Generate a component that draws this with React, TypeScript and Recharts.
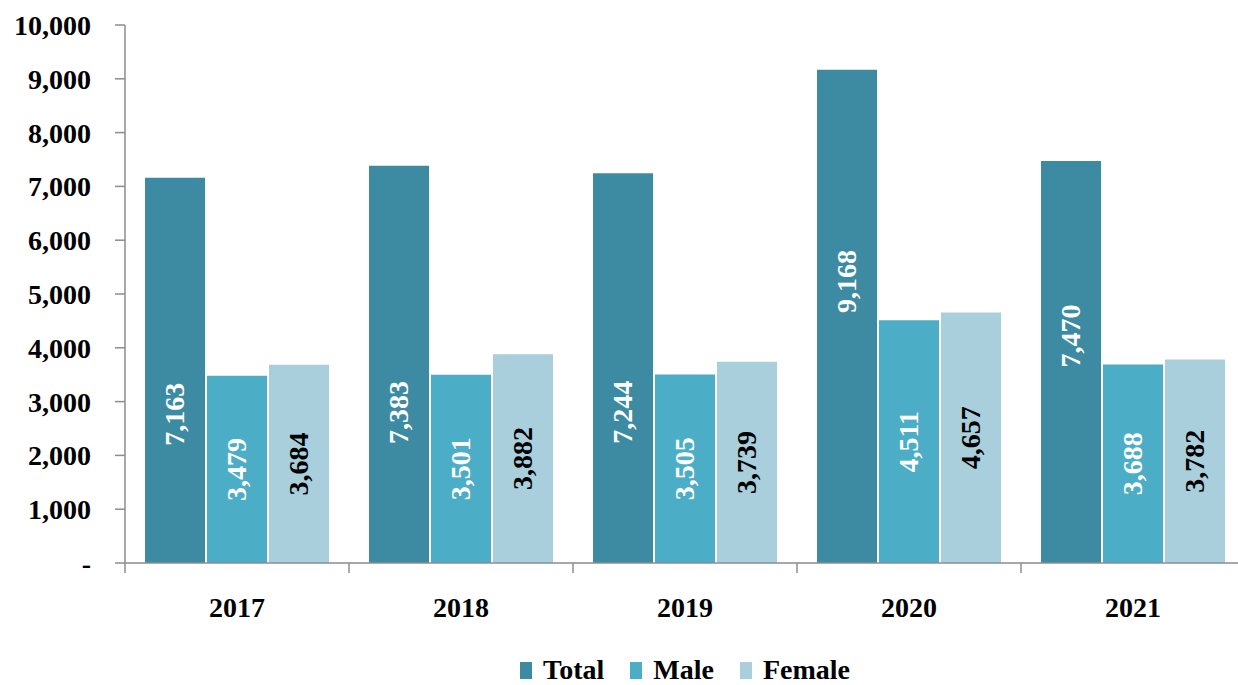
import React from 'react';
import { BarChart, Bar, XAxis, YAxis, LabelList } from 'recharts';

const YEARS = ['2017', '2018', '2019', '2020', '2021'];
const TOTAL = [7163, 7383, 7244, 9168, 7470];
const MALE = [3479, 3501, 3505, 4511, 3688];
const FEMALE = [3684, 3882, 3739, 4657, 3782];
const Y_TICKS = [0, 1000, 2000, 3000, 4000, 5000, 6000, 7000, 8000, 9000, 10000];

// hand-placed label nudges on the Total bars (px, + = down)
const TOTAL_LABEL_SHIFT = [44, 48, 44, -35, -26];

const FONT = '"Liberation Serif", "Times New Roman", serif';
const AXIS = '#8c8c8c';
const SERIES = [
  { key: 'total', name: 'Total', color: '#3d8ba2', text: '#ffffff' },
  { key: 'male', name: 'Male', color: '#4badc6', text: '#ffffff' },
  { key: 'female', name: 'Female', color: '#a9cfdc', text: '#000000' },
];

const data = YEARS.map((year, i) => ({
  year,
  total: TOTAL[i],
  male: MALE[i],
  female: FEMALE[i],
}));

const W = 1250;
const H = 685;
const LEFT = 125;
const RIGHT = 5;
const BAND = (W - LEFT - RIGHT) / YEARS.length;

const fmt = (v: number) => (v === 0 ? '-' : v.toLocaleString('en-US'));

const YearTick = ({ x, y, payload }: any) => (
  <g>
    <line x1={x - BAND / 2} y1={y} x2={x - BAND / 2} y2={y + 10} stroke={AXIS} strokeWidth={1.5} />
    <text
      x={x}
      y={y + 44}
      textAnchor="middle"
      dominantBaseline="central"
      fontFamily={FONT}
      fontWeight={700}
      fontSize={28}
      fill="#000"
    >
      {payload.value}
    </text>
  </g>
);

const makeLabel = (color: string, shifts?: number[]) => (props: any) => {
  const { x, y, width, height, value, index } = props;
  const cx = x + width / 2;
  const cy = y + height / 2 + (shifts ? shifts[index] : 0);
  return (
    <text
      x={cx}
      y={cy}
      transform={`rotate(-90, ${cx}, ${cy})`}
      textAnchor="middle"
      dominantBaseline="central"
      fontFamily={FONT}
      fontWeight={700}
      fontSize={28}
      fill={color}
    >
      {Number(value).toLocaleString('en-US')}
    </text>
  );
};

export default function App() {
  return (
    <div
      style={{
        position: 'absolute',
        left: 0,
        top: 0,
        width: 1238,
        height: H,
        overflow: 'hidden',
        background: '#fff',
      }}
    >
      <BarChart
        width={W}
        height={H}
        data={data}
        margin={{ top: 25, right: RIGHT, left: 0, bottom: 0 }}
        barCategoryGap={20}
        barGap={2}
      >
        <XAxis
          dataKey="year"
          height={122}
          axisLine={{ stroke: AXIS, strokeWidth: 1.5 }}
          tickLine={false}
          tickSize={0}
          tickMargin={0}
          interval={0}
          tick={<YearTick />}
        />
        <YAxis
          width={LEFT}
          domain={[0, 10000]}
          ticks={Y_TICKS}
          interval={0}
          tickFormatter={fmt}
          axisLine={{ stroke: AXIS, strokeWidth: 1.5 }}
          tickLine={{ stroke: AXIS, strokeWidth: 1.5 }}
          tickSize={10}
          tickMargin={24}
          tick={{ fill: '#000', fontFamily: FONT, fontWeight: 700, fontSize: 28 }}
        />
        {SERIES.map((s) => (
          <Bar key={s.key} dataKey={s.key} name={s.name} fill={s.color} isAnimationActive={false}>
            <LabelList
              dataKey={s.key}
              content={makeLabel(s.text, s.key === 'total' ? TOTAL_LABEL_SHIFT : undefined)}
            />
          </Bar>
        ))}
      </BarChart>
      <div
        style={{
          position: 'absolute',
          left: LEFT,
          width: W - LEFT - RIGHT,
          top: 654,
          display: 'flex',
          justifyContent: 'center',
          alignItems: 'center',
          gap: 26,
          fontFamily: FONT,
          fontWeight: 700,
          fontSize: 28,
          color: '#000',
        }}
      >
        {SERIES.map((s) => (
          <div key={`legend-${s.key}`} style={{ display: 'flex', alignItems: 'center', gap: 11 }}>
            <span style={{ width: 12, height: 17, background: s.color, display: 'inline-block' }} />
            <span>{s.name}</span>
          </div>
        ))}
      </div>
    </div>
  );
}
